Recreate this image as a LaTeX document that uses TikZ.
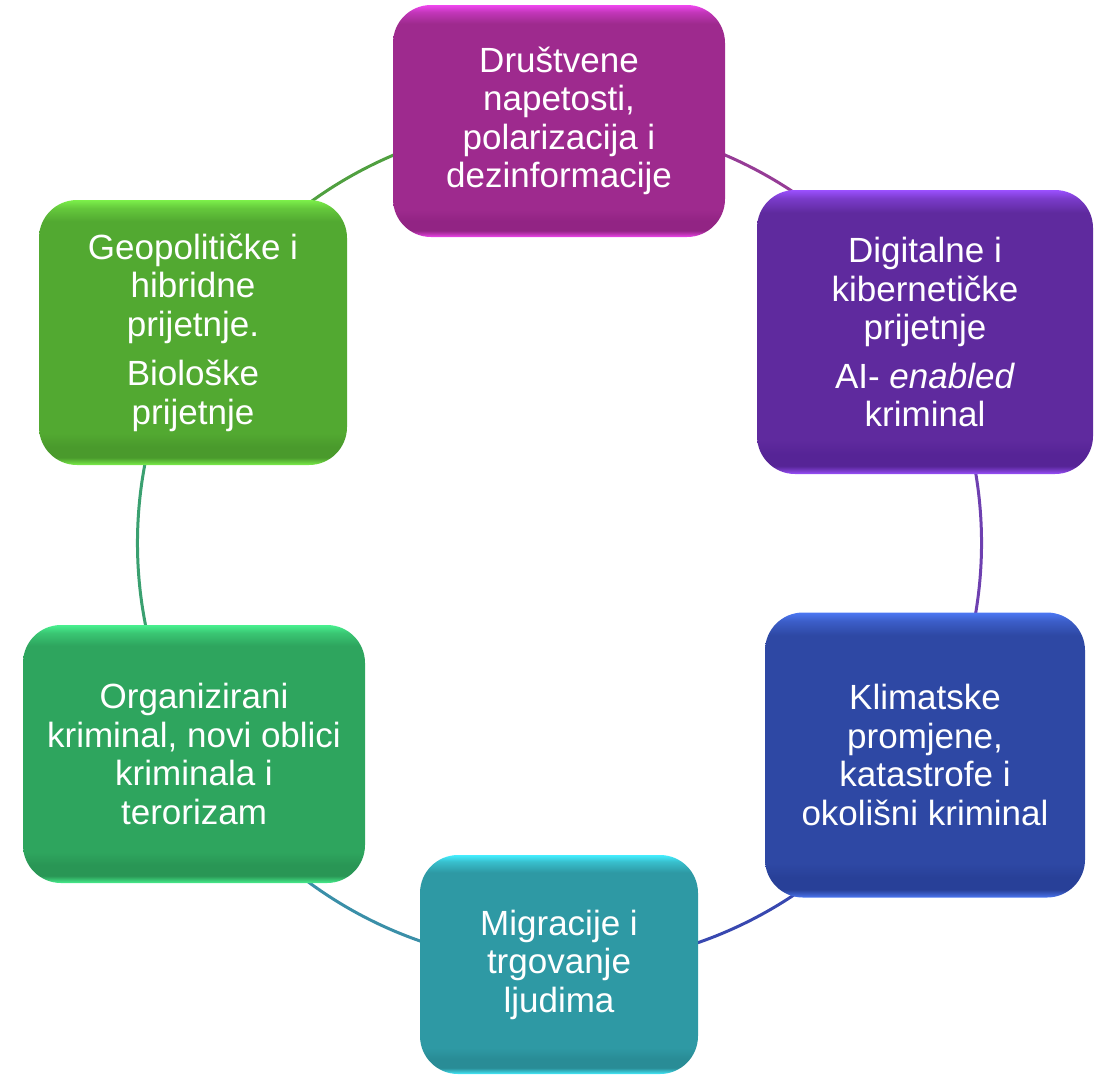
\documentclass[tikz,border=0pt]{standalone}
\usepackage{fontspec}
\setmainfont{Liberation Sans}
\usetikzlibrary{backgrounds}

% box colours: light rim, base, dark band, mid
\definecolor{aL}{RGB}{240,70,240}\definecolor{aB}{RGB}{158,42,142}\definecolor{aD}{RGB}{146,36,132}\colorlet{aM}{aB!55!aL}
\definecolor{bL}{RGB}{155,80,255}\definecolor{bB}{RGB}{95,42,158}\definecolor{bD}{RGB}{86,36,150}\colorlet{bM}{bB!55!bL}
\definecolor{cL}{RGB}{76,120,244}\definecolor{cB}{RGB}{46,72,164}\definecolor{cD}{RGB}{40,64,152}\colorlet{cM}{cB!55!cL}
\definecolor{dL}{RGB}{68,238,255}\definecolor{dB}{RGB}{46,153,164}\definecolor{dD}{RGB}{41,140,150}\colorlet{dM}{dB!55!dL}
\definecolor{eL}{RGB}{72,240,142}\definecolor{eB}{RGB}{46,165,94}\definecolor{eD}{RGB}{41,150,85}\colorlet{eM}{eB!55!eL}
\definecolor{fL}{RGB}{124,240,74}\definecolor{fB}{RGB}{82,169,49}\definecolor{fD}{RGB}{74,154,44}\colorlet{fM}{fB!55!fL}

% arc colours
\definecolor{arcTL}{RGB}{80,160,64}
\definecolor{arcTR}{RGB}{150,60,150}
\definecolor{arcR}{RGB}{110,64,176}
\definecolor{arcBR}{RGB}{56,72,176}
\definecolor{arcBL}{RGB}{58,143,168}
\definecolor{arcL}{RGB}{58,160,112}

\newcommand\mkboxshade[5]{%
  \pgfdeclareverticalshading{#1}{100bp}{color(0bp)=(#2); color(25bp)=(#2);
    color(25.6bp)=(#5); color(26.4bp)=(#4); color(28.5bp)=(#4); color(31bp)=(#3); color(71bp)=(#3);
    color(73.5bp)=(#5); color(75bp)=(#2); color(100bp)=(#2)}}
\mkboxshade{shA}{aL}{aB}{aD}{aM}
\mkboxshade{shB}{bL}{bB}{bD}{bM}
\mkboxshade{shC}{cL}{cB}{cD}{cM}
\mkboxshade{shD}{dL}{dB}{dD}{dM}
\mkboxshade{shE}{eL}{eB}{eD}{eM}
\mkboxshade{shF}{fL}{fB}{fD}{fM}

\tikzset{
  boxnode/.style={rounded corners=38pt, align=center, text=white, inner sep=0pt,
    font=\fontsize{35}{38.5}\selectfont, shading angle=0},
  arcline/.style={line width=3pt},
}

\begin{document}
\begin{tikzpicture}[x=1pt,y=1pt]
\useasboundingbox (0,0) rectangle (1099,-1076);
\coordinate (c) at (559,-543);

\node[boxnode, shading=shA, minimum width=332pt, minimum height=232pt] (n1) at (559,-121)
  {Društvene\\napetosti,\\polarizacija i\\dezinformacije};
\node[boxnode, shading=shB, minimum width=336pt, minimum height=284pt] (n2) at (925,-332)
  {Digitalne i\\kibernetičke\\prijetnje\\[10pt]AI- \textit{enabled}\\kriminal};
\node[boxnode, shading=shC, minimum width=320pt, minimum height=285pt] (n3) at (925,-755)
  {Klimatske\\promjene,\\katastrofe i\\okolišni kriminal};
\node[boxnode, shading=shD, minimum width=278pt, minimum height=219pt] (n4) at (559,-964.5)
  {Migracije i\\trgovanje\\ljudima};
\node[boxnode, shading=shE, minimum width=342pt, minimum height=258pt] (n5) at (194,-754)
  {Organizirani\\kriminal, novi oblici\\kriminala i\\terorizam};
\node[boxnode, shading=shF, minimum width=308pt, minimum height=265pt] (n6) at (193,-332.5)
  {Geopolitičke i\\hibridne\\prijetnje.\\[11pt]Biološke\\prijetnje};

\begin{scope}[on background layer]
  \draw[arcline, arcTL] (n6.center) arc[start angle=150, end angle=90, radius=422];
  \draw[arcline, arcTR] (n1.center) arc[start angle=90, end angle=30, radius=422];
  \draw[arcline, arcR]  (n2.center) arc[start angle=30, end angle=-30, radius=422];
  \draw[arcline, arcBR] (n3.center) arc[start angle=-30, end angle=-90, radius=422];
  \draw[arcline, arcBL] (n4.center) arc[start angle=-90, end angle=-150, radius=422];
  \draw[arcline, arcL]  (n5.center) arc[start angle=210, end angle=150, radius=422];
\end{scope}
\end{tikzpicture}
\end{document}
